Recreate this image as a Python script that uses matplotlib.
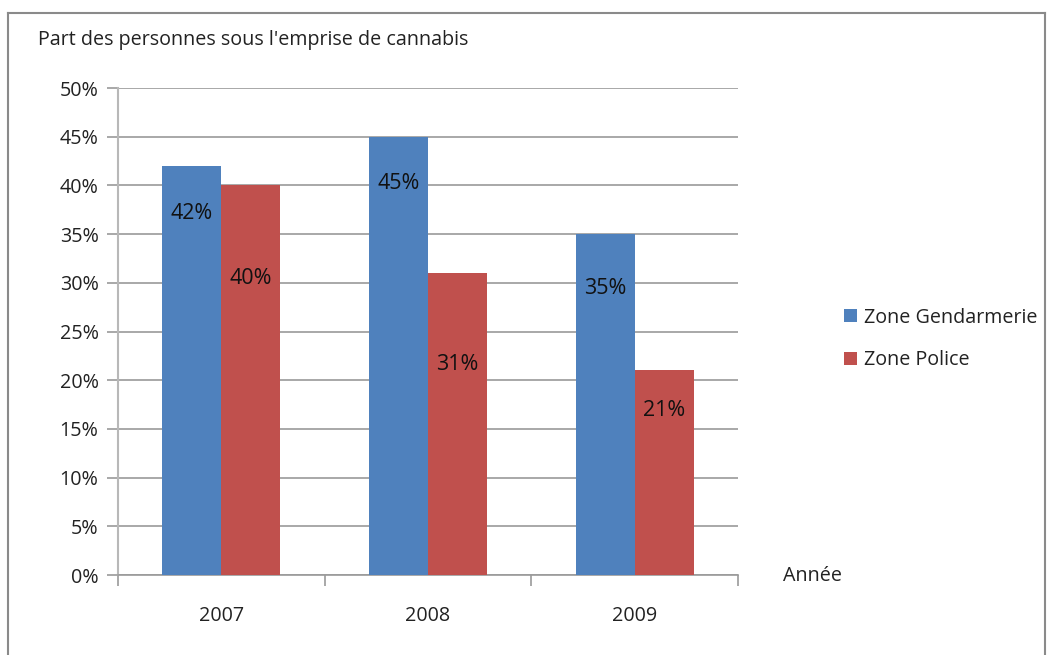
import matplotlib
matplotlib.use("Agg")
import matplotlib.pyplot as plt
from matplotlib.lines import Line2D
from matplotlib.patches import Patch
import numpy as np

years = ["2007", "2008", "2009"]
gendarmerie = [42, 45, 35]
police = [40, 31, 21]
series_names = ["Zone Gendarmerie", "Zone Police"]
yticks = [0, 5, 10, 15, 20, 25, 30, 35, 40, 45, 50]
ytick_labels = [f"{v}%" for v in yticks]

plt.rcParams['font.family'] = ['Open Sans', 'DejaVu Sans']

BLUE = "#4F81BD"
RED = "#C0504D"
GRID = "#9a9a9a"
FS = 14.2

# data label offsets below bar top (pixels), as placed in the original
label_drop = [[48, 47, 54], [93, 91, 40]]

fig = plt.figure(figsize=(10.47, 6.55), dpi=100)
fig.patch.set_facecolor("white")

# outer frame
for xs, ys in [([0.0076, 0.0076], [0.0, 0.980]), ([0.0076, 0.998], [0.980, 0.980]), ([0.998, 0.998], [0.0, 0.980])]:
    fig.add_artist(Line2D(xs, ys, transform=fig.transFigure, color="#8a8a8a", lw=1.5))

ax = fig.add_axes([0.1127, 0.1221, 0.7049 - 0.1127, 0.8656 - 0.1221])
x = np.arange(len(years))
w = 0.285
b1 = ax.bar(x - w / 2, gendarmerie, w, color=BLUE, label=series_names[0], zorder=3)
b2 = ax.bar(x + w / 2, police, w, color=RED, label=series_names[1], zorder=3)

for bars, vals, drops in [(b1, gendarmerie, label_drop[0]), (b2, police, label_drop[1])]:
    for r, v, d in zip(bars, vals, drops):
        ax.annotate(f"{v}%", (r.get_x() + r.get_width() / 2, v), xytext=(0, -d),
                    textcoords="offset pixels", ha="center", va="center",
                    fontsize=15.5, color="#111111", zorder=4)

ax.set_xlim(-0.5, 2.5)
ax.set_ylim(0, 50)
ax.set_yticks(yticks)
ax.set_yticklabels(ytick_labels, fontsize=FS, color="#222222")
ax.yaxis.grid(True, color=GRID, lw=1.2, zorder=0)
ax.set_xticks(x)
ax.set_xticklabels(years, fontsize=FS, color="#222222")
ax.tick_params(axis="x", length=0, pad=22)
ax.tick_params(axis="y", length=8, color=GRID, width=1.2, pad=6)
ax.set_xticks([-0.5, 0.5, 1.5, 2.5], minor=True)
ax.tick_params(axis="x", which="minor", length=8, color=GRID, width=1.2)

for s in ["top", "right"]:
    ax.spines[s].set_visible(False)
ax.spines["left"].set_color("#b8b8b8")
ax.spines["left"].set_linewidth(1.5)
ax.spines["bottom"].set_color(GRID)
ax.spines["bottom"].set_linewidth(1.2)

fig.text(38 / 1047, 1 - 40 / 655, "Part des personnes sous l'emprise de cannabis",
         fontsize=FS, color="#222222", ha="left", va="center")
fig.text(783 / 1047, 1 - 576 / 655, "Année", fontsize=FS, color="#222222",
         ha="left", va="center")

handles = [Patch(facecolor=BLUE), Patch(facecolor=RED)]
leg = fig.legend(handles, series_names, loc="center left",
                 bbox_to_anchor=(826 / 1047, 1 - 339 / 655), frameon=False,
                 fontsize=FS, handlelength=0.65, handleheight=0.65,
                 handletextpad=0.4, labelspacing=1.15)
for t in leg.get_texts():
    t.set_color("#222222")

fig.savefig("out.png", dpi=100, facecolor="white")
